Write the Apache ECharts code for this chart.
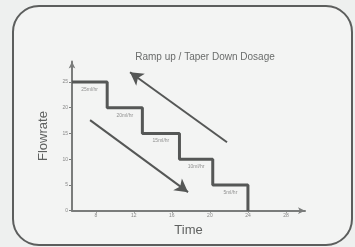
<!DOCTYPE html>
<html><head><meta charset="utf-8">
<script src="https://cdn.jsdelivr.net/npm/echarts@6/dist/echarts.min.js"></script>
<style>html,body{margin:0;padding:0;background:#eef0ef;}#c{width:355px;height:247px;}</style>
</head><body><div id="c"></div>
<script>
const titleText = 'Ramp up / Taper Down Dosage';
const stepTimes = [5.5, 9.2, 12.9, 16.8, 20.3, 24];
const stepRates = [25, 20, 15, 10, 5];
const stepLabels = ['25ml/hr', '20ml/hr', '15ml/hr', '10ml/hr', '5ml/hr'];
const xTickValues = [8, 12, 16, 20, 24, 28];
const yTickValues = [0, 5, 10, 15, 20, 25];
const arrowUp = [[21.8, 13.3], [11.6, 26.9]];
const arrowDown = [[7.4, 17.6], [17.7, 3.6]];

const stepPath = [];
for (let i = 0; i < stepRates.length; i++) {
  stepPath.push([stepTimes[i], stepRates[i]]);
  stepPath.push([stepTimes[i + 1], stepRates[i]]);
}
stepPath.push([stepTimes[stepTimes.length - 1], 0]);
const labelPts = stepRates.map((v, i) => ({value: [(stepTimes[i] + stepTimes[i + 1]) / 2, v], label: {formatter: stepLabels[i]}}));
const arrowLine = a => [{coord: a[0]}, {coord: a[1]}];

const chart = echarts.init(document.getElementById('c'), null, {renderer: 'canvas'});
const axisCol = '#7a7c7b';
const dark = '#555756';
chart.setOption({
  backgroundColor: '#eef0ef',
  animation: false,
  graphic: [{
    type: 'rect', left: 12, top: 5, z: -10,
    shape: {width: 339, height: 239, r: 26},
    style: {fill: '#f3f4f3', stroke: '#5c5e5d', lineWidth: 2}
  }],
  title: {
    text: titleText, left: 200, top: 47, textAlign: 'center',
    textStyle: {fontSize: 10, fontWeight: 'normal', color: '#6a6c6b', fontFamily: 'Liberation Sans'}
  },
  grid: {left: 72, top: 61.4, width: 233, bottom: 36.3},
  xAxis: {
    type: 'value', min: 5.5, max: 30,
    name: 'Time', nameLocation: 'middle', nameGap: 13,
    nameTextStyle: {fontSize: 13, color: '#5f6160', fontFamily: 'Liberation Sans'},
    axisLine: {lineStyle: {color: axisCol, width: 2}, symbol: ['none', 'arrow'], symbolSize: [5, 7]},
    axisTick: {show: true, length: 2, customValues: xTickValues, lineStyle: {color: axisCol}},
    axisLabel: {customValues: xTickValues, fontSize: 5, margin: 2, color: '#888'},
    splitLine: {show: false}
  },
  yAxis: {
    type: 'value', min: 0, max: 29,
    name: 'Flowrate', nameLocation: 'middle', nameGap: 22, nameRotate: 90,
    nameTextStyle: {fontSize: 13, color: '#5f6160', fontFamily: 'Liberation Sans'},
    axisLine: {show: true, lineStyle: {color: axisCol, width: 2}, symbol: ['none', 'arrow'], symbolSize: [5, 7]},
    axisTick: {show: true, length: 3, customValues: yTickValues, lineStyle: {color: axisCol}},
    axisLabel: {customValues: yTickValues, fontSize: 5, margin: 4, color: '#888'},
    splitLine: {show: false}
  },
  series: [
    {
      type: 'line', data: stepPath, symbol: 'none',
      lineStyle: {color: dark, width: 3},
      markLine: {
        silent: true, symbol: ['none', 'arrow'], symbolSize: [11, 13],
        label: {show: false},
        lineStyle: {color: dark, width: 2, type: 'solid'},
        itemStyle: {color: dark},
        data: [arrowLine(arrowUp), arrowLine(arrowDown)]
      }
    },
    {
      type: 'scatter', data: labelPts, symbolSize: 0,
      label: {show: true, position: 'bottom', distance: 5, fontSize: 5, color: '#777'}
    }
  ]
});
</script></body></html>
